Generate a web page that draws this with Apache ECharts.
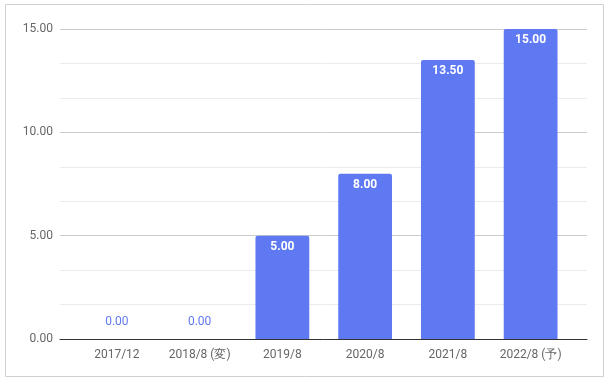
<!DOCTYPE html>
<html><head><meta charset="utf-8">
<script src="https://cdn.jsdelivr.net/npm/echarts@6/dist/echarts.min.js"></script>
<style>html,body{margin:0;padding:0;background:#fff}#c{width:612px;height:383px}</style>
</head><body><div id="c"></div>
<script>
const categories = ['2017/12', '2018/8 (変)', '2019/8', '2020/8', '2021/8', '2022/8 (予)'];
const values = [0, 0, 5, 8, 13.5, 15];
const yTicks = [0, 5, 10, 15];

const barColor = '#5f79f2';
const data = values.map(v => v === 0
  ? { value: v, label: { position: 'top', distance: 11, color: '#5f79f2', fontWeight: 'normal' } }
  : { value: v });

const yMin = yTicks[0], yMax = yTicks[yTicks.length - 1];
const chart = echarts.init(document.getElementById('c'));
chart.setOption({
  animation: false,
  graphic: [{ type: 'rect', shape: { x: 5.5, y: 4.5, width: 598, height: 372 }, style: { fill: 'none', stroke: '#d0d0d0', lineWidth: 1 }, silent: true }],
  grid: [
    { left: 60, right: 25, top: 29, bottom: 44 },
    { left: 75.5, right: 40, top: 29, bottom: 44 }
  ],
  xAxis: [
    { type: 'value', gridIndex: 0, min: 0, max: 1, show: true,
      axisLine: { show: true, onZero: false, lineStyle: { color: '#333', width: 1 } },
      axisTick: { show: false }, axisLabel: { show: false }, splitLine: { show: false } },
    { type: 'category', gridIndex: 1, data: categories,
      axisLine: { show: false }, axisTick: { show: false },
      axisLabel: { color: '#666', fontFamily: 'Roboto', fontSize: 12, margin: 10 } }
  ],
  yAxis: [
    { type: 'value', gridIndex: 0, min: yMin, max: yMax, interval: 5,
      axisLine: { show: false }, axisTick: { show: false },
      axisLabel: { color: '#666', fontFamily: 'Roboto', fontSize: 12, margin: 7, formatter: v => v.toFixed(2) },
      splitLine: { lineStyle: { color: '#ccc' } },
      minorTick: { show: false, splitNumber: 3 },
      minorSplitLine: { show: true, lineStyle: { color: '#ebebeb' } } },
    { type: 'value', gridIndex: 1, min: yMin, max: yMax, interval: 5, show: false }
  ],
  series: [{
    type: 'bar', xAxisIndex: 1, yAxisIndex: 1, data: data, barWidth: '65%', z: 3,
    itemStyle: { color: barColor, borderRadius: [2, 2, 0, 0] },
    label: { show: true, position: 'insideTop', distance: 5, color: '#fff', fontFamily: 'Roboto', fontSize: 12, fontWeight: 'bold', formatter: p => p.value.toFixed(2) }
  }]
});
</script></body></html>
